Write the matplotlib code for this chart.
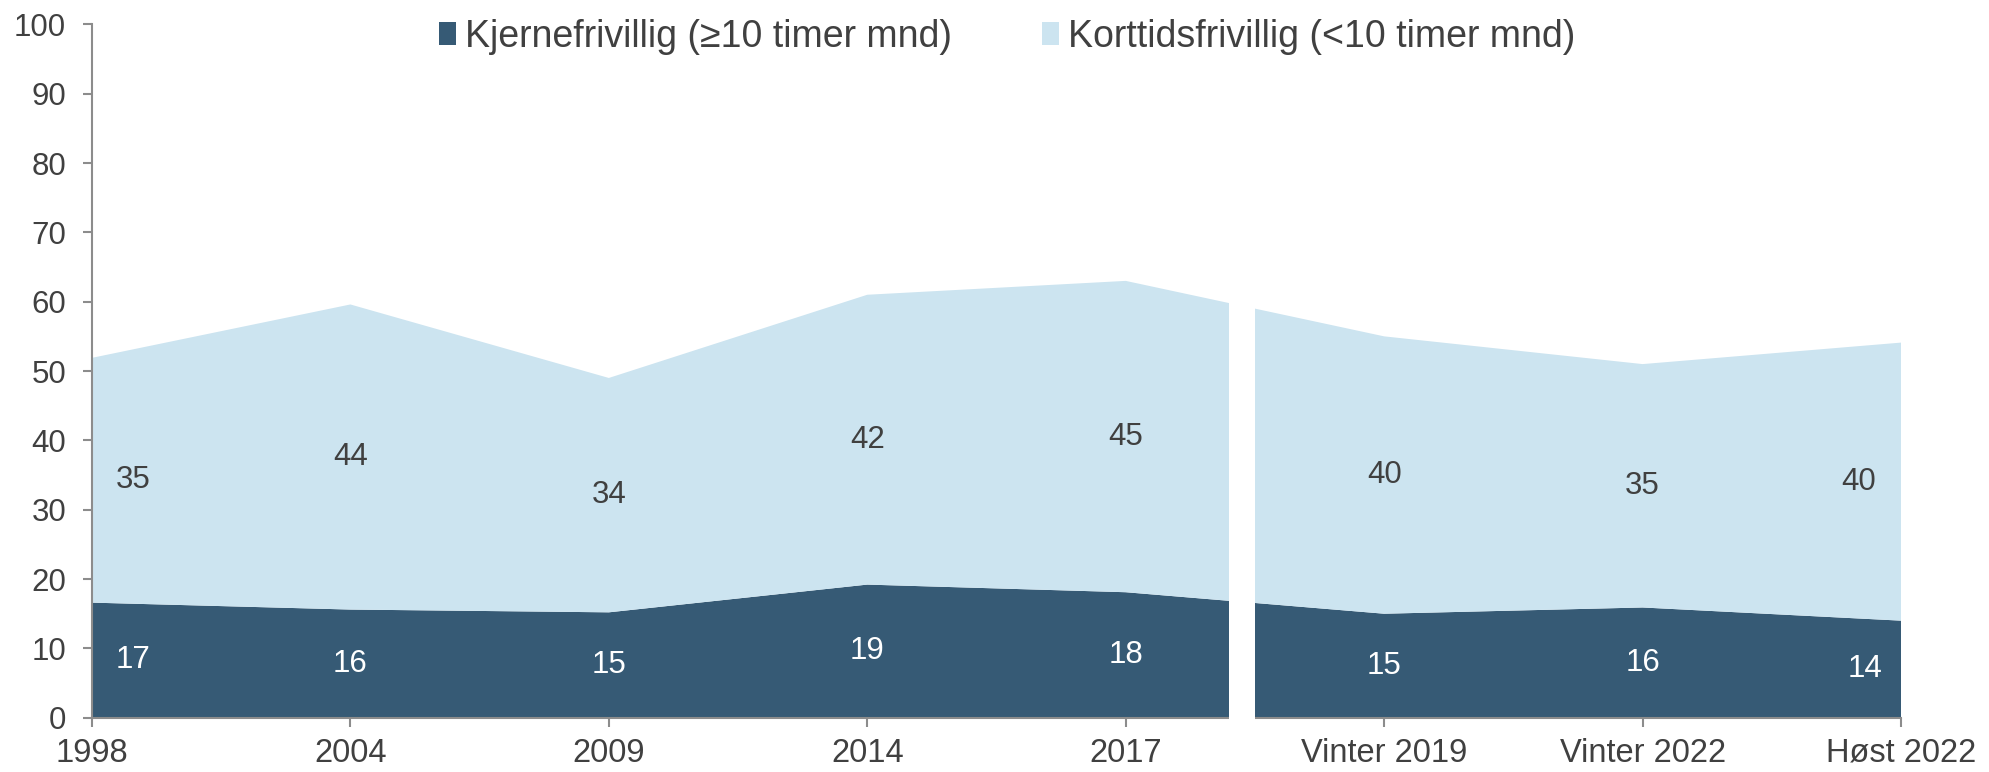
import matplotlib.pyplot as plt
from matplotlib.patches import Rectangle
import numpy as np

plt.rcParams['font.family'] = ['Liberation Sans', 'DejaVu Sans']

# ---------------------- Data ---------------------------
categories = ["1998", "2004", "2009", "2014", "2017",
              "Vinter 2019", "Vinter 2022", "Høst 2022"]
kjerne = [16.6, 15.6, 15.2, 19.2, 18.1, 15.0, 15.9, 14.0]
korttid = [35.3, 44.0, 33.8, 41.8, 44.9, 40.0, 35.1, 40.1]

series_names = ["Kjernefrivillig (\u226510 timer mnd)",
                "Korttidsfrivillig (<10 timer mnd)"]

dark = "#365A75"
light = "#CCE4F0"
text_col = "#404040"
axis_col = "#8C8C8C"
fs = 22.5

# ---------------------- Figure ---------------------------
fig = plt.figure(figsize=(19.9, 7.72), dpi=100)
ax = fig.add_axes([0.0462, 0.0703, 0.9091, 0.8982])

x = np.arange(len(categories))
ax.stackplot(x, kjerne, korttid, colors=[dark, light], labels=series_names,
             linewidth=0, zorder=2)

# break between the old and the new survey series
ax.add_patch(Rectangle((4.4, -1.5), 0.1, 100, facecolor="white",
                       edgecolor="none", zorder=5, clip_on=False))

# ---------------------- Labels ---------------------------
n = len(categories)
for i in range(n):
    xo = i
    if i == 0:
        xo = i + 0.16
    elif i == n - 1:
        xo = i - 0.14
    ax.text(xo, kjerne[i] / 2, f"{kjerne[i]:.0f}", ha="center", va="center",
            color="white", fontsize=fs, zorder=6)
    xo2 = xo
    if i == n - 1:
        xo2 = i - 0.165
    ax.text(xo2, kjerne[i] + korttid[i] / 2, f"{korttid[i]:.0f}", ha="center",
            va="center", color=text_col, fontsize=fs, zorder=6)

# ---------------------- Axes ---------------------------
ax.set_xlim(0, n - 1)
ax.set_ylim(0, 100)
ax.set_yticks(range(0, 101, 10))
ax.set_xticks(x)
ax.set_xticklabels(categories)

for s in ["top", "right"]:
    ax.spines[s].set_visible(False)
for s in ["left", "bottom"]:
    ax.spines[s].set_color(axis_col)
    ax.spines[s].set_linewidth(1.5)
    ax.spines[s].set_zorder(3)

ax.tick_params(axis="y", length=6.5, width=1.5, color=axis_col,
               labelcolor=text_col, labelsize=fs, pad=12)
ax.tick_params(axis="x", length=6.5, width=1.5, color=axis_col,
               labelcolor=text_col, labelsize=23.5, pad=8)

leg = ax.legend(loc="center", bbox_to_anchor=(0.506, 0.982), ncol=2,
                frameon=False, fontsize=27, handlelength=0.45,
                handleheight=0.6, handletextpad=0.25, columnspacing=2.4,
                labelcolor=text_col)

fig.savefig("out.png", dpi=100)
